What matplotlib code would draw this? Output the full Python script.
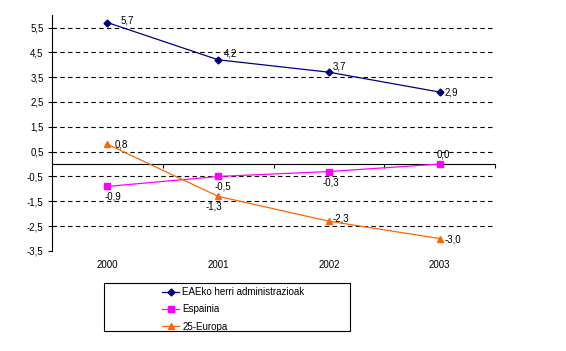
import matplotlib.pyplot as plt
from matplotlib.patches import Rectangle

plt.rcParams['font.family'] = ['Liberation Sans', 'DejaVu Sans']

years = ['2000', '2001', '2002', '2003']
eae = [5.7, 4.2, 3.7, 2.9]
espainia = [-0.9, -0.5, -0.3, 0.0]
europa = [0.8, -1.3, -2.3, -3.0]
yticks = [-3.5, -2.5, -1.5, -0.5, 0.5, 1.5, 2.5, 3.5, 4.5, 5.5]

# label offsets in pixels for each point
eae_off = [(13, 2), (6, 6), (4, 6), (5, 0)]
esp_off = [(-3, -10), (-4, -10), (-6, -11), (-3, 10)]
eur_off = [(7, 0), (-13, -10), (4, 3), (5, -1)]

FS = 7

fig = plt.figure(figsize=(5.66, 3.51), dpi=100)
ax = fig.add_axes([0.0919, 0.285, 0.7827, 0.672])

x = list(range(len(years)))
series = [
    ('EAEko herri administrazioak', eae, '#000080', 'D', 3.5, eae_off),
    ('Espainia', espainia, '#FF00FF', 's', 3.8, esp_off),
    ('25-Europa', europa, '#FF6600', '^', 4.5, eur_off),
]

ymin, ymax = -3.5, 6.0
for yv in yticks:
    if yv > ymin:
        ax.axhline(yv, color='black', lw=0.8, ls=(0, (4, 3)), zorder=1)

handles = []
for name, vals, col, mk, ms, offs in series:
    h, = ax.plot(x, vals, color=col, lw=0.9, marker=mk, ms=ms, label=name, zorder=3)
    handles.append(h)
    for xi, v, off in zip(x, vals, offs):
        ax.annotate(f'{v:.1f}'.replace('.', ','), (xi, v), xytext=off,
                    textcoords='offset pixels', fontsize=FS,
                    ha='left', va='center')

ax.set_xlim(-0.5, len(years) - 0.5)
ax.set_ylim(ymin, ymax)

ax.set_yticks(yticks)
ax.set_yticklabels([f'{v:.1f}'.replace('.', ',') for v in yticks], fontsize=FS)
ax.tick_params(axis='y', length=3, width=0.8, pad=3, direction='out')

for s in ['top', 'right']:
    ax.spines[s].set_visible(False)
ax.spines['left'].set_linewidth(0.8)
ax.spines['bottom'].set_position(('data', 0))
ax.spines['bottom'].set_linewidth(0.8)
ax.set_xticks([i + 0.5 for i in x])
ax.set_xticklabels([])
ax.tick_params(axis='x', length=3, width=0.8, direction='out')

for xi, yr in zip(x, years):
    ax.annotate(yr, (xi, ymin), xytext=(0, -14), textcoords='offset pixels',
                ha='center', va='center', fontsize=FS)

fig.patches.append(Rectangle((104 / 566, 1 - 331 / 351), 246 / 566, 48 / 351,
                             transform=fig.transFigure, fill=False,
                             edgecolor='black', lw=0.8))
fig.legend(handles=handles, loc='upper left', bbox_to_anchor=(160 / 566, 1 - 285 / 351),
           frameon=False, fontsize=FS, handlelength=1.8, handletextpad=0.3,
           labelspacing=0.75, borderpad=0.2, borderaxespad=0)

fig.savefig('out.png', dpi=100)
